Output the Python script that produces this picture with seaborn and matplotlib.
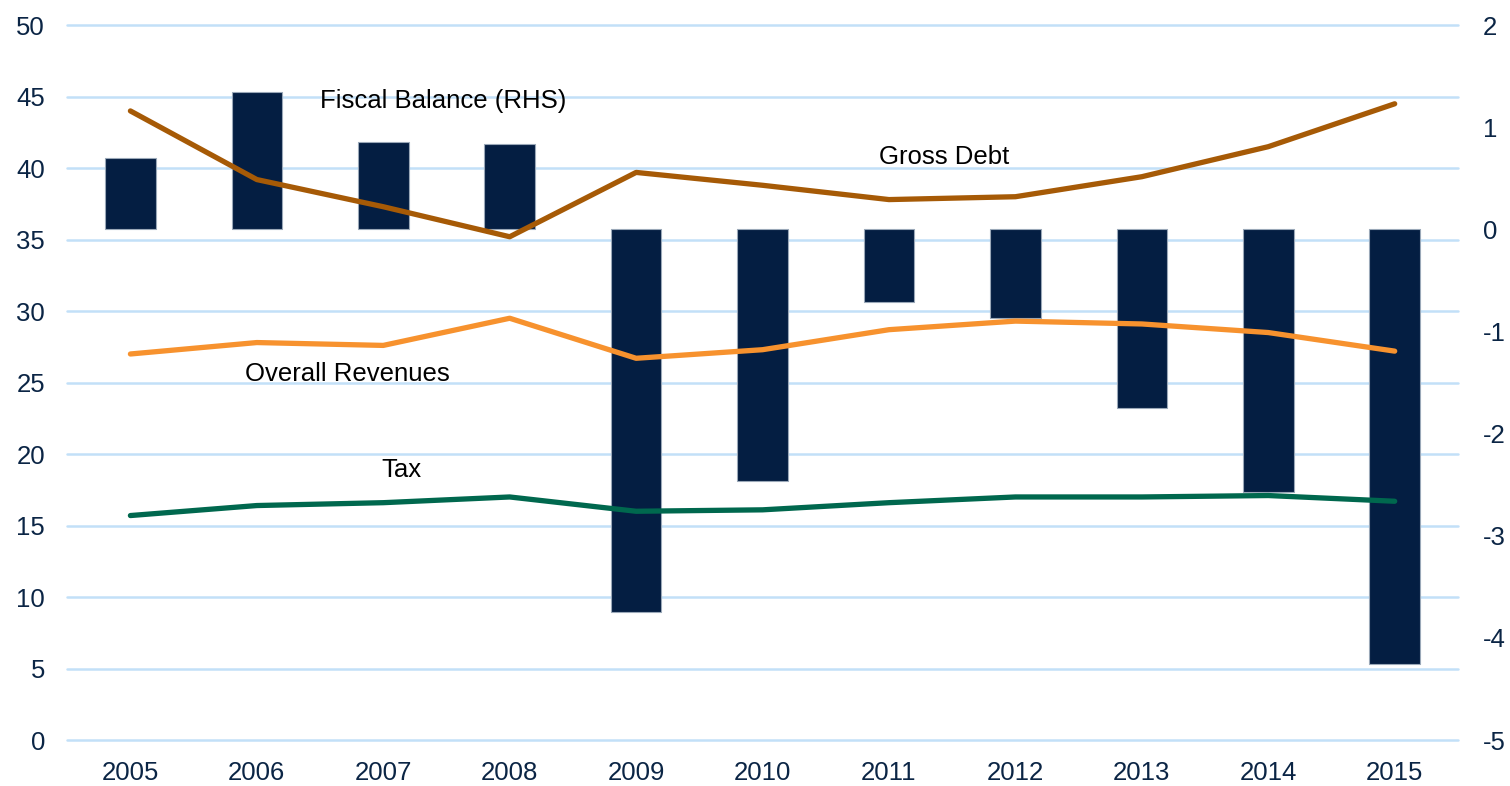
import numpy as np
import pandas as pd
import seaborn as sns
import matplotlib.pyplot as plt

# ============================================================
# DATA
# ============================================================
years = [2005, 2006, 2007, 2008, 2009, 2010, 2011, 2012, 2013, 2014, 2015]
fiscal_balance = [0.70, 1.35, 0.86, 0.84, -3.75, -2.46, -0.71, -0.87, -1.75, -2.57, -4.26]  # RHS
gross_debt = [44.0, 39.2, 37.3, 35.2, 39.7, 38.8, 37.8, 38.0, 39.4, 41.5, 44.5]
revenues = [27.0, 27.8, 27.6, 29.5, 26.7, 27.3, 28.7, 29.3, 29.1, 28.5, 27.2]
tax = [15.7, 16.4, 16.6, 17.0, 16.0, 16.1, 16.6, 17.0, 17.0, 17.1, 16.7]

left_ticks = [0, 5, 10, 15, 20, 25, 30, 35, 40, 45, 50]
right_ticks = [-5, -4, -3, -2, -1, 0, 1, 2]

df = pd.DataFrame({'year': years, 'fb': fiscal_balance, 'debt': gross_debt,
                   'rev': revenues, 'tax': tax})

# ============================================================
# STYLE
# ============================================================
sns.set_style('white')
plt.rcParams['font.family'] = ['Liberation Sans', 'DejaVu Sans']
plt.rcParams['axes.unicode_minus'] = False

NAVY = '#041E42'
TICK_COL = '#0B2545'
GRID_COL = '#C2E0F8'
DEBT_COL = '#A65A06'
REV_COL = '#F7922E'
TAX_COL = '#00684E'
FS = 18.5

fig = plt.figure(figsize=(15.1, 7.86), dpi=100)
ax = fig.add_axes([0.0445, 0.0585, 0.921, 0.9095])
ax_bar = ax.twinx()
ax_line = ax.twinx()

# grid + left scale (bottom layer)
ax.set_ylim(0, 50)
ax.set_yticks(left_ticks)
ax.grid(axis='y', color=GRID_COL, lw=1.8)
ax.grid(axis='x', visible=False)
for gl in ax.get_ygridlines():
    gl.set_clip_on(False)
ax.set_zorder(1)

# bars on the RHS scale
sns.barplot(data=df, x='year', y='fb', native_scale=True, width=0.4,
            color=NAVY, edgecolor='#9AA8B8', linewidth=0.8, saturation=1,
            ax=ax_bar)
ax_bar.set_ylim(-5, 2)
ax_bar.set_yticks(right_ticks)
ax_bar.set_zorder(2)
ax_bar.patch.set_visible(False)

# lines on the LHS scale (top layer)
sns.lineplot(data=df, x='year', y='debt', color=DEBT_COL, lw=3.8, ax=ax_line)
sns.lineplot(data=df, x='year', y='rev', color=REV_COL, lw=3.8, ax=ax_line)
sns.lineplot(data=df, x='year', y='tax', color=TAX_COL, lw=3.8, ax=ax_line)
ax_line.set_ylim(0, 50)
ax_line.set_yticks([])
ax_line.set_zorder(3)
ax_line.patch.set_visible(False)

for a in (ax, ax_bar, ax_line):
    a.set_xlim(years[0] - 0.5, years[-1] + 0.5)
    a.set_xlabel('')
    a.set_ylabel('')
    for s in a.spines.values():
        s.set_visible(False)

ax.set_xticks(years)
ax.set_xticklabels([str(y) for y in years])
ax.tick_params(axis='x', length=0, pad=15, labelsize=FS, labelcolor=TICK_COL)
ax.tick_params(axis='y', length=0, pad=16, labelsize=FS, labelcolor=TICK_COL)
ax_bar.tick_params(axis='y', length=0, pad=18, labelsize=FS, labelcolor=TICK_COL)
ax_bar.tick_params(axis='x', length=0, labelbottom=False)
ax_line.tick_params(axis='x', length=0, labelbottom=False)

# series labels
lab = dict(fontsize=FS, color='black', va='center')
ax_line.text(2006.5, 44.7, 'Fiscal Balance (RHS)', ha='left', **lab)
ax_line.text(2011.44, 40.8, 'Gross Debt', ha='center', **lab)
ax_line.text(2005.91, 25.6, 'Overall Revenues', ha='left', **lab)
ax_line.text(2007.14, 18.9, 'Tax', ha='center', **lab)

fig.savefig('out.png', dpi=100)
